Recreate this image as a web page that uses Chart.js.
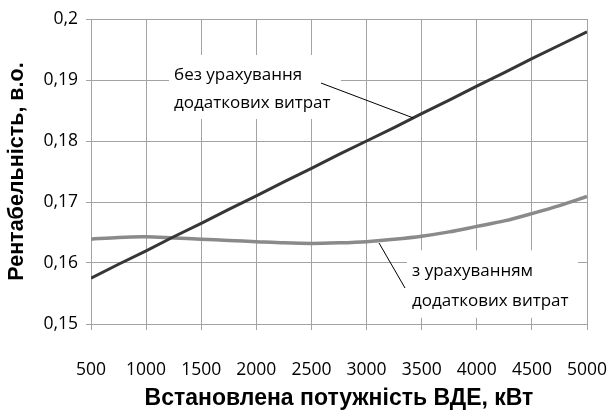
<!DOCTYPE html>
<html>
<head>
<meta charset="utf-8">
<script src="https://cdn.jsdelivr.net/npm/chart.js@4.4.1/dist/chart.umd.min.js"></script>
<style>
  html, body { margin: 0; padding: 0; background: #ffffff; }
  #wrap { width: 610px; height: 410px; }
</style>
</head>
<body>
<div id="wrap"><canvas id="c" width="610" height="410"></canvas></div>
<script>
// ---- Data ----
const powerKW = [500, 750, 1000, 1250, 1500, 1750, 2000, 2250, 2500, 2750, 3000, 3250, 3500, 3750, 4000, 4250, 4500, 4750, 5000];
const withoutExtraCosts = [0.1575, 0.1598, 0.1620, 0.1643, 0.1665, 0.1688, 0.1710, 0.1733, 0.1755, 0.1778, 0.1800, 0.1822, 0.1845, 0.1867, 0.1890, 0.1912, 0.1935, 0.1957, 0.1979];
const withExtraCosts    = [0.1639, 0.1642, 0.1643, 0.1641, 0.1639, 0.1637, 0.1635, 0.1633, 0.1632, 0.1633, 0.1635, 0.1639, 0.1644, 0.1651, 0.1660, 0.1669, 0.1681, 0.1694, 0.1709];
const yTickLabels = ['0,15', '0,16', '0,17', '0,18', '0,19', '0,2'];
const xTitle = 'Встановлена потужність ВДЕ, кВт';
const yTitle = 'Рентабельність, в.о.';
const labelWithout = ['без урахування', 'додаткових витрат'];
const labelWith = ['з урахуванням', 'додаткових витрат'];

// Annotation placement in data units
const notes = [
  { lines: labelWithout, box: [1208, 0.1941, 2768, 0.1836], leader: [2587, 0.1895, 3421, 0.1838] },
  { lines: labelWith,    box: [3367, 0.1621, 4919, 0.1510], leader: [3113, 0.16328, 3349, 0.1559] }
];

const gridColor = '#a3a3a3';

const notesPlugin = {
  id: 'notes',
  beforeDatasetsDraw(chart) {
    const ctx = chart.ctx, xs = chart.scales.x, ys = chart.scales.y;
    ctx.save();
    notes.forEach(n => {
      const x1 = xs.getPixelForValue(n.box[0]), y1 = ys.getPixelForValue(n.box[1]);
      const x2 = xs.getPixelForValue(n.box[2]), y2 = ys.getPixelForValue(n.box[3]);
      ctx.fillStyle = '#ffffff';
      ctx.fillRect(x1, y1, x2 - x1, y2 - y1);
    });
    ctx.restore();
  },
  afterDatasetsDraw(chart) {
    const ctx = chart.ctx, xs = chart.scales.x, ys = chart.scales.y;
    ctx.save();
    notes.forEach(n => {
      const x1 = xs.getPixelForValue(n.box[0]), y1 = ys.getPixelForValue(n.box[1]);
      const y2 = ys.getPixelForValue(n.box[3]);
      ctx.fillStyle = '#000000';
      ctx.font = '17px "Open Sans"';
      ctx.textAlign = 'left';
      ctx.textBaseline = 'middle';
      const h = (y2 - y1);
      ctx.fillText(n.lines[0], x1 + 5, y1 + h * 0.31);
      ctx.fillText(n.lines[1], x1 + 5, y1 + h * 0.75);
      ctx.strokeStyle = '#000000';
      ctx.lineWidth = 1;
      ctx.beginPath();
      ctx.moveTo(xs.getPixelForValue(n.leader[0]), ys.getPixelForValue(n.leader[1]));
      ctx.lineTo(xs.getPixelForValue(n.leader[2]), ys.getPixelForValue(n.leader[3]));
      ctx.stroke();
    });
    ctx.restore();
  }
};

new Chart(document.getElementById('c'), {
  type: 'line',
  data: {
    datasets: [
      {
        data: powerKW.map((x, i) => ({ x, y: withoutExtraCosts[i] })),
        borderColor: '#363636', borderWidth: 3, pointRadius: 0, tension: 0, fill: false
      },
      {
        data: powerKW.map((x, i) => ({ x, y: withExtraCosts[i] })),
        borderColor: '#8a8a8a', borderWidth: 3.5, pointRadius: 0, tension: 0.3, fill: false
      }
    ]
  },
  options: {
    responsive: false,
    animation: false,
    devicePixelRatio: 1,
    layout: { padding: { top: 19, right: 0, left: 0, bottom: 0 } },
    plugins: { legend: { display: false }, tooltip: { enabled: false } },
    scales: {
      x: {
        type: 'linear', min: 500, max: 5000,
        afterFit(scale) { scale.height = 86; scale.paddingRight = 23; scale.paddingLeft = 0; },
        ticks: { stepSize: 500, color: '#000', padding: 30, maxRotation: 0, autoSkip: false,
          font: { family: '"Open Sans"', size: 17.5 }, callback: v => String(v) },
        grid: { color: gridColor, lineWidth: 1, tickLength: 6, drawTicks: true },
        border: { color: gridColor },
        title: { display: true, text: xTitle, color: '#000', padding: { top: 0, bottom: 0 },
          font: { family: '"Liberation Sans"', size: 23, weight: 'bold', lineHeight: 1 } }
      },
      y: {
        min: 0.15, max: 0.2,
        afterFit(scale) { scale.width = 91; },
        afterBuildTicks(scale) {
          scale.ticks = yTickLabels.map((t, i) => ({ value: 0.15 + i * 0.01 }));
        },
        ticks: { color: '#000', padding: 8,
          font: { family: '"Open Sans"', size: 17.5 },
          callback: (v, i) => yTickLabels[i] },
        grid: { color: gridColor, lineWidth: 1, tickLength: 5, drawTicks: true },
        border: { color: gridColor },
        title: { display: true, text: yTitle, color: '#000', padding: { top: 4, bottom: 0 },
          font: { family: '"Liberation Sans"', size: 21.5, weight: 'bold' } }
      }
    }
  },
  plugins: [notesPlugin]
});
</script>
</body>
</html>
